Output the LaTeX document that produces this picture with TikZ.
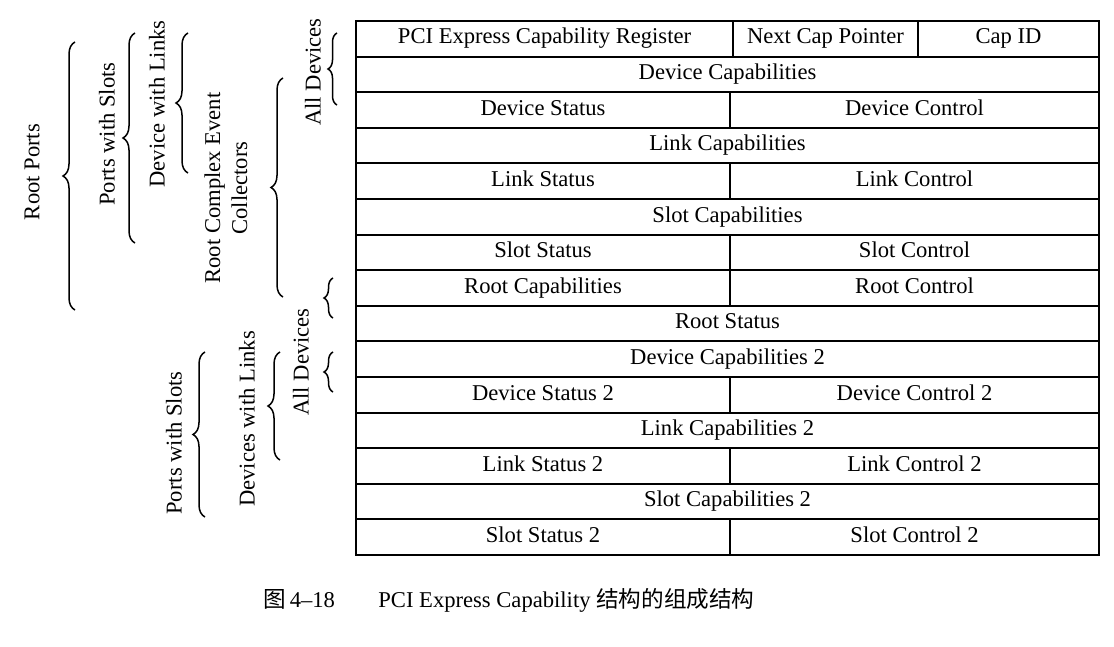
\documentclass[tikz,border=0pt]{standalone}
\usepackage{fontspec}
\setmainfont{Liberation Serif}
\newfontfamily\cjkfont{Noto Sans CJK SC}
\usetikzlibrary{decorations.pathreplacing}
\begin{document}
\begin{tikzpicture}[x=0.5pt,y=-0.5pt,
  every node/.style={font=\fontsize{11.3}{13.5}\selectfont},
  cell/.style={draw, line width=1pt, inner sep=0pt, minimum height=17.8pt, text height=7.6pt, text depth=2.4pt},
  lbl/.style={rotate=90, align=center, inner sep=0pt},
  bigbrace/.style={decorate, decoration={brace, amplitude=6pt}, line width=0.75pt},
  smallbrace/.style={decorate, decoration={brace, amplitude=4.5pt}, line width=0.75pt}]
\useasboundingbox (0,0) rectangle (1114,647);

% ---- table ----
\node[cell, minimum width=188.5pt] (r1a) at (544.5,38.8) {PCI Express Capability Register};
\node[cell, minimum width=92.5pt] (r1b) at (825.5,38.8) {Next Cap Pointer};
\node[cell, minimum width=90.5pt] (r1c) at (1008.5,38.8) {Cap ID};
\foreach \i/\t in {2/Device Capabilities, 4/Link Capabilities, 6/Slot Capabilities,
  9/Root Status, 10/Device Capabilities 2, 12/Link Capabilities 2, 14/Slot Capabilities 2}
  \node[cell, minimum width=371.5pt] (full\i) at (727.5,{21+(\i-0.5)*35.6}) {\t};
\foreach \i/\a/\b in {3/Device Status/Device Control, 5/Link Status/Link Control,
  7/Slot Status/Slot Control, 8/Root Capabilities/Root Control,
  11/Device Status 2/Device Control 2, 13/Link Status 2/Link Control 2,
  15/Slot Status 2/Slot Control 2}{
  \node[cell, minimum width=187pt] (left\i) at (543,{21+(\i-0.5)*35.6}) {\a};
  \node[cell, minimum width=184.5pt] (right\i) at (914.5,{21+(\i-0.5)*35.6}) {\b};
}

% ---- labels ----
\node[lbl] (rootports) at (32,172) {Root Ports};
\node[lbl] (pwsA) at (107,134) {Ports with Slots};
\node[lbl] (dwlA) at (157,104) {Device with Links};
\node[lbl] (rcec) at (226,188) {Root Complex Event\\Collectors};
\node[lbl] (adA) at (313,72) {All Devices};
\node[lbl] (adB) at (301,362) {All Devices};
\node[lbl] (dwlB) at (247,419) {Devices with Links};
\node[lbl] (pwsB) at (174,443) {Ports with Slots};

% ---- braces ----
\coordinate (rpB) at (75,310);  \coordinate (rpT) at (75,42);
\coordinate (psB) at (135,243); \coordinate (psT) at (135,33);
\coordinate (dlB) at (188,173); \coordinate (dlT) at (188,33);
\coordinate (rcB) at (283,297); \coordinate (rcT) at (283,78);
\coordinate (a1B) at (337,105); \coordinate (a1T) at (337,33);
\coordinate (s1B) at (333,318); \coordinate (s1T) at (333,278);
\coordinate (s2B) at (333,392); \coordinate (s2T) at (333,352);
\coordinate (d2B) at (280,460); \coordinate (d2T) at (280,352);
\coordinate (p2B) at (205,517); \coordinate (p2T) at (205,352);
\draw[bigbrace] (rpB) -- (rpT);
\draw[bigbrace] (psB) -- (psT);
\draw[bigbrace] (dlB) -- (dlT);
\draw[bigbrace] (rcB) -- (rcT);
\draw[smallbrace] (a1B) -- (a1T);
\draw[smallbrace] (s1B) -- (s1T);
\draw[smallbrace] (s2B) -- (s2T);
\draw[bigbrace] (d2B) -- (d2T);
\draw[bigbrace] (p2B) -- (p2T);

% ---- caption ----
\node[anchor=base west, inner sep=0pt] (capnum) at (263,607) {{\cjkfont 图}\,4--18};
\node[anchor=base west, inner sep=0pt] (captext) at (378,607) {PCI Express Capability {\cjkfont 结构的组成结构}};
\end{tikzpicture}
\end{document}
